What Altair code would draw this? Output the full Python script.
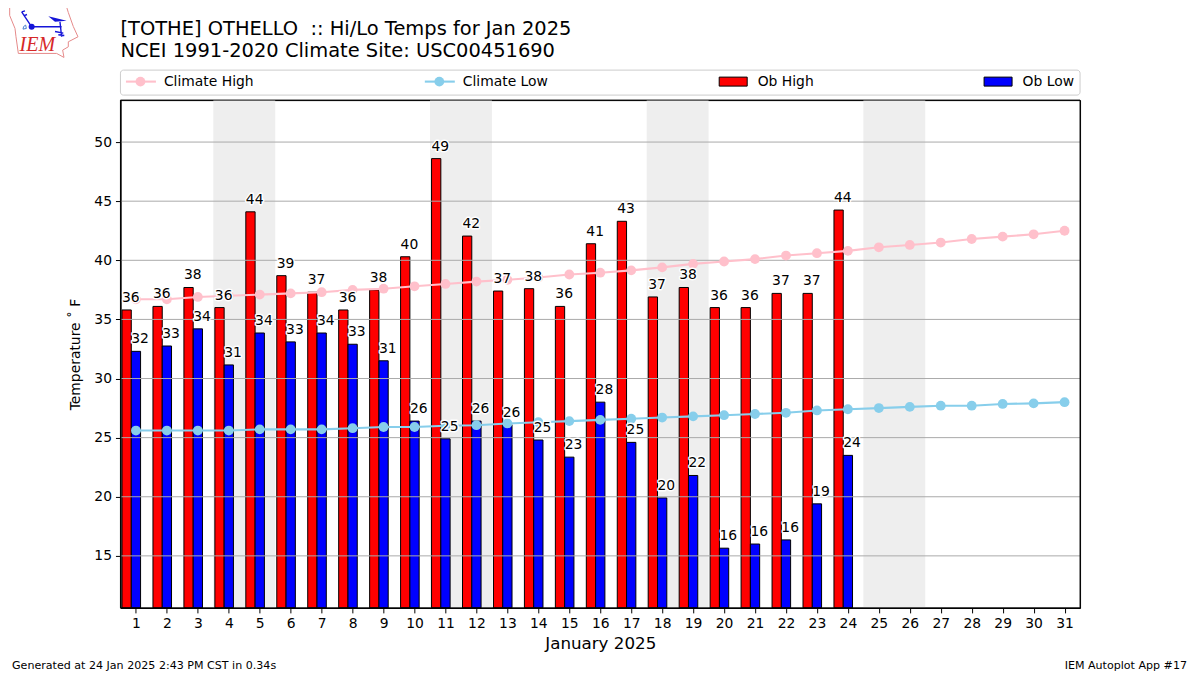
import altair as alt
import pandas as pd

days = list(range(1, 32))
ob_days = days[:24]
ob_high = [35.8, 36.1, 37.7, 36.0, 44.1, 38.7, 37.3, 35.8, 37.5, 40.3, 48.6, 42.05, 37.4, 37.6, 36.1, 41.4,
           43.3, 36.9, 37.7, 36.0, 36.0, 37.2, 37.2, 44.25]
ob_low = [32.3, 32.75, 34.2, 31.15, 33.85, 33.1, 33.85, 32.9, 31.5, 26.4, 24.9, 26.4, 26.1, 24.8, 23.35, 28.0,
          24.6, 19.9, 21.8, 15.65, 16.0, 16.35, 19.4, 23.5]
high_labels = [36, 36, 38, 36, 44, 39, 37, 36, 38, 40, 49, 42, 37, 38, 36, 41, 43, 37, 38, 36, 36, 37, 37, 44]
low_labels = [32, 33, 34, 31, 34, 33, 34, 33, 31, 26, 25, 26, 26, 25, 23, 28, 25, 20, 22, 16, 16, 16, 19, 24]
climate_high = [36.7, 36.7, 36.9, 37.0, 37.1, 37.2, 37.3, 37.5, 37.6, 37.8, 38.0, 38.2, 38.35, 38.55, 38.8, 38.95,
                39.15, 39.4, 39.7, 39.9, 40.1, 40.4, 40.6, 40.8, 41.1, 41.3, 41.5, 41.8, 42.0, 42.2, 42.5]
climate_low = [25.6, 25.6, 25.6, 25.6, 25.7, 25.7, 25.7, 25.8, 25.9, 25.9, 26.0, 26.05, 26.2, 26.3, 26.4, 26.5,
               26.6, 26.7, 26.8, 26.9, 27.0, 27.1, 27.3, 27.4, 27.5, 27.6, 27.7, 27.7, 27.85, 27.9, 28.0]
weekend_start = [3.5, 10.5, 17.5, 24.5]
weekend_end = [5.5, 12.5, 19.5, 26.5]
y_ticks = [15, 20, 25, 30, 35, 40, 45, 50]
title_lines = ["[TOTHE] OTHELLO \u00a0:: Hi/Lo Temps for Jan 2025", "NCEI 1991-2020 Climate Site: USC00451690"]
footer_left = "Generated at 24 Jan 2025 2:43 PM CST in 0.34s"
footer_right = "IEM Autoplot App #17"
x_title = "January 2025"
y_title = "Temperature ˚ F"

FONT = "DejaVu Sans"
W, H = 960, 508
DOT = 96
x_scale = alt.Scale(domain=[0.5, 31.5], nice=False, zero=False)
y_scale = alt.Scale(domain=[10.6, 53.55], nice=False, zero=False)

obs = pd.DataFrame({"day": ob_days, "high": ob_high, "low": ob_low,
                    "high_label": high_labels, "low_label": low_labels})
climate = pd.DataFrame({"day": days, "chigh": climate_high, "clow": climate_low})
weekends = pd.DataFrame({"start": weekend_start, "end": weekend_end})
grid = pd.DataFrame({"v": y_ticks})
one = pd.DataFrame({"a": [0]})

x_axis = alt.Axis(values=days, format="d", grid=False, tickSize=5, tickColor="black", domainColor="black",
                  labelFontSize=13.9, labelColor="black", labelPadding=4, labelFont=FONT,
                  titleFont=FONT, titleFontSize=16.7, titleFontWeight="normal", titleColor="black",
                  titlePadding=5, labelOverlap=False, zindex=1)
y_axis = alt.Axis(values=y_ticks, format="d", grid=False, tickSize=5, tickColor="black", domainColor="black",
                  labelFontSize=13.9, labelColor="black", labelPadding=4, labelFont=FONT,
                  titleFont=FONT, titleFontSize=13.9, titleFontWeight="normal", titleColor="black",
                  titlePadding=11, zindex=1)

X = lambda f: alt.X(f, type="quantitative", scale=x_scale, title=x_title, axis=x_axis)
Y = lambda f: alt.Y(f, type="quantitative", scale=y_scale, title=y_title, axis=y_axis)

bands = alt.Chart(weekends).mark_rect(color="#eeeeee").encode(
    x=X("start"), x2="end", y=alt.value(0), y2=alt.value(H))

hi_bars = alt.Chart(obs).transform_calculate(a="datum.day-0.45", b="datum.day-0.15").mark_rect(
    color="red", stroke="black", strokeWidth=1, clip=True).encode(
    x=X("a"), x2="b:Q", y=Y("high"), y2=alt.value(H))
lo_bars = alt.Chart(obs).transform_calculate(a="datum.day-0.15", b="datum.day+0.15").mark_rect(
    color="blue", stroke="black", strokeWidth=1, clip=True).encode(
    x=X("a"), x2="b:Q", y=Y("low"), y2=alt.value(H))

grid_rules = alt.Chart(grid).mark_rule(color="#aaaaaa", strokeWidth=1).encode(y=Y("v"))

frame = alt.Chart(one).mark_rect(fillOpacity=0, stroke="black", strokeWidth=1).encode(
    x=alt.value(0), x2=alt.value(W), y=alt.value(0), y2=alt.value(H))


def climate_layers(field, color):
    base = alt.Chart(climate).encode(x=X("day"), y=Y(field))
    return [base.mark_line(color=color, strokeWidth=2.1),
            base.mark_point(color=color, filled=True, opacity=1, size=DOT)]


def label_layers(field, label, offset):
    base = alt.Chart(obs).transform_calculate(lx=f"datum.day{offset}").encode(
        x=X("lx"), y=Y(field), text=alt.Text(label, type="quantitative", format="d"))
    style = dict(align="left", baseline="alphabetic", dy=-8, fontSize=13.9, font=FONT)
    return [base.mark_text(stroke="white", strokeWidth=2.8, strokeJoin="round", fill="white", **style),
            base.mark_text(fill="black", **style)]


def text_at(txt, px, py, size, align="left", **kw):
    return alt.Chart(one).mark_text(text=txt, align=align, baseline="middle", fontSize=size, font=kw.pop("font", FONT),
                                    fill=kw.pop("fill", "black"), **kw).encode(
        x=alt.value(px), y=alt.value(py))


def rule_at(x1, x2, y, color):
    return alt.Chart(one).mark_rule(color=color, strokeWidth=2.1).encode(
        x=alt.value(x1), x2=alt.value(x2), y=alt.value(y))


def dot_at(x, y, color, size=DOT):
    return alt.Chart(one).mark_point(color=color, filled=True, opacity=1, size=size).encode(
        x=alt.value(x), y=alt.value(y))


def swatch_at(x1, x2, y1, y2, color):
    return alt.Chart(one).mark_rect(color=color, stroke="black", strokeWidth=1, strokeJoin="miter", cornerRadius=0).encode(
        x=alt.value(x1), x2=alt.value(x2), y=alt.value(y1), y2=alt.value(y2))


legend_box = alt.Chart(one).mark_rect(fill="white", stroke="#cccccc", strokeWidth=1, cornerRadius=3).encode(
    x=alt.value(0), x2=alt.value(W), y=alt.value(-30), y2=alt.value(-5))
legend = [
    legend_box,
    rule_at(5.5, 35.5, -18.5, "pink"), dot_at(20, -18.5, "pink"), text_at("Climate High", 43.5, -18.5, 13.9),
    rule_at(304.5, 334.5, -18.5, "skyblue"), dot_at(319, -18.5, "skyblue"), text_at("Climate Low", 342.5, -18.5, 13.9),
    swatch_at(599, 627, -23, -14, "red"), text_at("Ob High", 637.5, -18.5, 13.9),
    swatch_at(864, 892, -23, -14, "blue"), text_at("Ob Low", 902.5, -18.5, 13.9),
]

titles = [text_at(title_lines[0], 0, -71, 19.45), text_at(title_lines[1], 0, -49.5, 19.45)]
footers = [text_at(footer_left, -108.5, 566.5, 11.1), text_at(footer_right, 1067, 566.5, 11.1, align="right")]

LOGO_CX, LOGO_CY, LOGO_HALF = 43.3, 31.7, 36.7


def unit(p):
    return f"{(5 + p[0] / 3 - LOGO_CX) / LOGO_HALF:.3f},{(3 + p[1] / 3 - LOGO_CY) / LOGO_HALF:.3f}"


def logo_path(points, close=False):
    return "M" + "L".join(unit(p) for p in points) + ("Z" if close else "")


outline_pts = [(14, 13), (185, 12), (190, 28), (205, 70), (219, 101), (190, 116), (190, 131), (173, 141),
               (177, 163), (155, 151), (40, 151), (33, 101), (30, 76), (14, 37)]
stem_paths = [[(50, 26), (80, 71), (170, 71)], [(165, 56), (170, 101)], [(150, 85), (175, 90)],
              [(160, 95), (178, 97)], [(50, 26), (60, 23)], [(56, 38), (66, 34)]]
flag_pts = [(130, 39), (185, 53), (150, 56)]
station_pts = [(56, 70), (62, 66), (64, 76), (54, 78)]


def logo_mark(path, color, filled=False, width=1.0):
    return alt.Chart(one).mark_point(shape=path, size=(2 * LOGO_HALF) ** 2, opacity=1, filled=filled,
                                     color=color, strokeWidth=width).encode(
        x=alt.value(LOGO_CX - 120.5), y=alt.value(LOGO_CY - 100))


logo = [
    logo_mark(logo_path(outline_pts, True), "#e58a8a", width=1),
    logo_mark("".join(logo_path(p) for p in stem_paths), "#1515d8", width=1.4),
    logo_mark(logo_path(flag_pts, True), "#1515d8", filled=True),
    logo_mark(logo_path(station_pts, True), "#4a7fd0", width=1),
    dot_at(5 + 80 / 3 - 120.5, 3 + 71 / 3 - 100, "#1515d8", size=36),
    text_at("IEM", 5 + 97 / 3 - 120.5, 3 + 126 / 3 - 100, 20, align="center", font="Liberation Serif",
            fill="#d62828", fontStyle="italic"),
]

layers = [bands, hi_bars, lo_bars, grid_rules, frame]
layers += climate_layers("chigh", "pink") + climate_layers("clow", "skyblue")
layers += label_layers("high", "high_label", "-0.45") + label_layers("low", "low_label", "-0.15")
layers += legend + titles + footers + logo

chart = alt.layer(*layers).properties(
    width=W, height=H,
    autosize=alt.AutoSizeParams(type="none"),
    padding={"left": 112.5, "top": 92, "right": 112, "bottom": 65},
    background="white",
).resolve_scale(x="shared", y="shared").configure_view(stroke="black", strokeWidth=1)

chart.save("out.html", embed_options={"renderer": "svg", "actions": False})
